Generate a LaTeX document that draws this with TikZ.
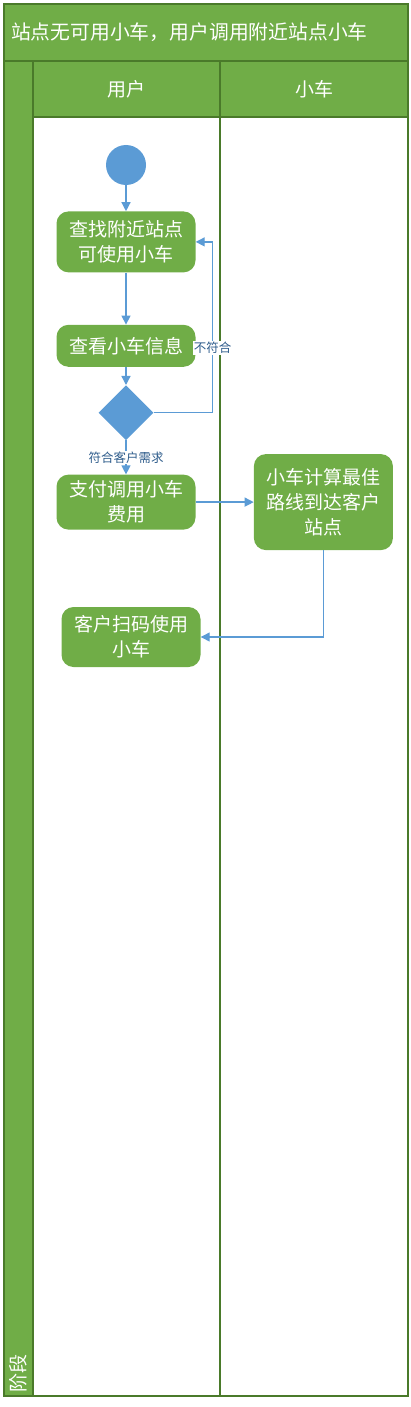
\documentclass[tikz,border=0pt]{standalone}
\usepackage{fontspec}
\setmainfont{Noto Sans CJK SC}
\usetikzlibrary{arrows.meta,positioning,shapes.geometric}
\definecolor{lanefill}{HTML}{70AD47}
\definecolor{laneline}{HTML}{4A7A2A}
\definecolor{flowblue}{HTML}{5B9BD5}
\definecolor{tagblue}{HTML}{2F5D8C}

\begin{document}
\begin{tikzpicture}[
  x=1pt, y=-1pt,
  font=\fontsize{19}{25}\selectfont,
  frame/.style  = {draw=laneline, line width=1.5pt},
  band/.style   = {frame, fill=lanefill},
  headtxt/.style= {text=white, inner sep=3pt},
  act/.style    = {fill=lanefill, rounded corners=12pt, minimum width=139pt,
                   text width=132pt, align=center, text=white, inner sep=2pt},
  startdot/.style={circle, fill=flowblue, minimum size=40pt, inner sep=0pt},
  check/.style  = {diamond, aspect=1, fill=flowblue, minimum size=55pt, inner sep=0pt},
  flow/.style   = {-{Triangle[length=9pt,width=9pt]}, line width=1.3pt, draw=flowblue},
  tag/.style    = {font=\fontsize{12.5}{14}\selectfont, text=tagblue, fill=white, inner sep=1pt},
]
\useasboundingbox (0,0) rectangle (410,1407);

% ---------- swimlane frame ----------------------------------------------------------
\draw[band]  (4,4)    rectangle (408,61);
\draw[band]  (4,61)   rectangle (33,1396);
\draw[band]  (33,61)  rectangle (220,117);
\draw[band]  (220,61) rectangle (408,117);
\draw[frame] (33,117) rectangle (220,1396);
\draw[frame] (220,117) rectangle (408,1396);

\node[headtxt, anchor=west, font=\fontsize{19.8}{22}\selectfont] (title) at (8,32)
     {站点无可用小车，用户调用附近站点小车};
\node[headtxt] (userhead) at (126,89) {用户};
\node[headtxt] (carhead)  at (314,89) {小车};
\node[headtxt, rotate=90, anchor=west] (stage) at (18,1396) {阶段};

% ---------- activities ----------------------------------------------------------------
\node[startdot] (start) at (126,165) {};
\node[act, minimum height=61pt, below=26pt of start] (find)  {查找附近站点\\可使用小车};
\node[act, minimum height=42pt, below=52pt of find]  (info)  {查看小车信息};
\node[check, below=18pt of info]                     (check) {};
\node[act, minimum height=55pt, below=34pt of check] (pay)   {支付调用小车\\费用};
\node[act, minimum height=96pt, right=58pt of pay]   (route) {小车计算最佳\\路线到达客户\\站点};
\node[act, minimum height=60pt, below=77pt of pay, xshift=5pt] (scan) {客户扫码使用\\小车};

% ---------- connectors ----------------------------------------------------------------
\draw[flow] (start) -- (find);
\draw[flow] (find) -- (info);
\draw[flow] (info) -- (check);
\draw[flow] (check) -- node[tag] {符合客户需求} (pay);
\draw[flow] (check.east) -| node[tag, pos=0.69] {不符合} ([xshift=17pt]find.east) -- (find.east);
\draw[flow] (pay) -- (route);
\draw[flow] (route.south) |- (scan.east);

\end{tikzpicture}
\end{document}
